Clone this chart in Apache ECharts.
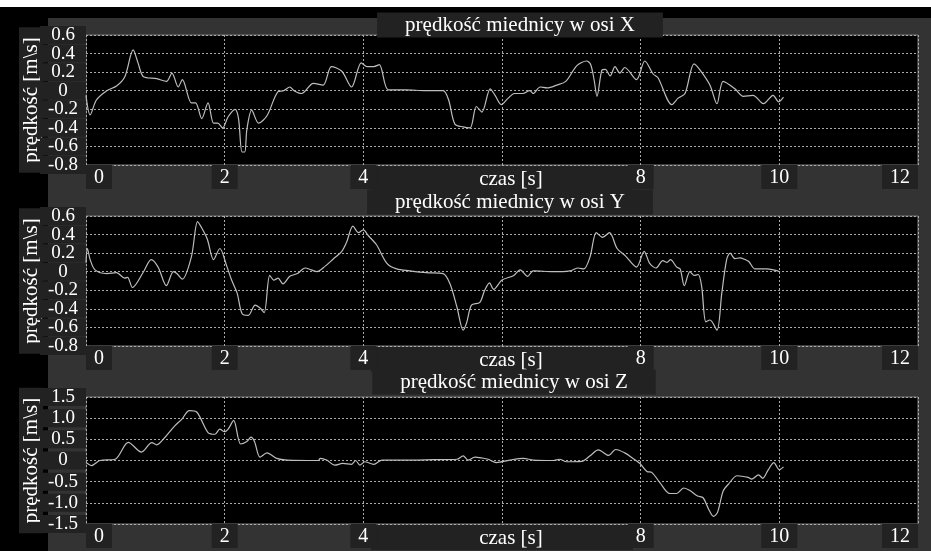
<!DOCTYPE html>
<html><head><meta charset="utf-8">
<script src="https://cdn.jsdelivr.net/npm/echarts@6/dist/echarts.min.js"></script>
<style>html,body{margin:0;padding:0;background:#000}#c{width:931px;height:551px}</style>
</head><body><div id="c"></div>
<script>
// ---- data ----
const titles = ['prędkość miednicy w osi X', 'prędkość miednicy w osi Y', 'prędkość miednicy w osi Z'];
const yName = 'prędkość [m\\s]';
const xName = 'czas [s]';
const xTicks = [0, 2, 4, 6, 8, 10, 12];
const xTickLabelsShown = [0, 2, 4, 8, 10, 12];
const yTicksXY = [-0.8, -0.6, -0.4, -0.2, 0, 0.2, 0.4, 0.6];
const yTicksZ = [-1.5, -1.0, -0.5, 0, 0.5, 1.0, 1.5];

const tX = [0, 0.06, 0.15, 0.3, 0.44, 0.56, 0.68, 0.75, 0.83, 1.02, 1.16, 1.24, 1.33, 1.39, 1.52, 1.58, 1.67, 1.76, 1.84, 1.9, 1.97, 2.05, 2.15, 2.2, 2.25, 2.29, 2.32, 2.39, 2.49, 2.61, 2.77, 2.85, 2.94, 3.0, 3.11, 3.28, 3.42, 3.54, 3.69, 3.83, 3.97, 4.05, 4.15, 4.23, 4.36, 4.6, 4.9, 5.15, 5.23, 5.32, 5.44, 5.54, 5.63, 5.71, 5.83, 5.9, 5.99, 6.09, 6.18, 6.3, 6.4, 6.45, 6.55, 6.65, 6.79, 6.92, 7.08, 7.22, 7.28, 7.33, 7.37, 7.44, 7.49, 7.56, 7.63, 7.7, 7.77, 7.94, 8.06, 8.18, 8.25, 8.45, 8.54, 8.64, 8.77, 8.86, 9.0, 9.1, 9.19, 9.36, 9.48, 9.62, 9.77, 9.91, 9.99, 10.06];
const vX = [-0.05, -0.26, -0.1, 0.0, 0.05, 0.15, 0.44, 0.3, 0.15, 0.13, 0.1, 0.19, 0.04, 0.12, -0.13, -0.13, -0.3, -0.13, -0.35, -0.35, -0.4, -0.28, -0.2, -0.3, -0.66, -0.66, -0.42, -0.21, -0.35, -0.27, -0.01, 0.0, 0.04, 0.0, -0.03, 0.08, 0.06, 0.26, 0.21, 0.04, 0.3, 0.26, 0.26, 0.28, 0.01, 0.01, 0.0, 0.0, -0.1, -0.36, -0.39, -0.4, -0.17, -0.23, 0.02, -0.05, -0.15, -0.08, -0.03, -0.03, 0.0, -0.03, 0.04, 0.03, 0.06, 0.1, 0.27, 0.32, 0.28, 0.11, -0.06, 0.22, 0.23, 0.16, 0.26, 0.19, 0.25, 0.12, 0.32, 0.18, 0.14, -0.15, -0.08, -0.03, 0.29, 0.22, 0.06, -0.14, 0.1, 0.02, -0.06, -0.05, -0.14, -0.05, -0.12, -0.07];

const tY = [0, 0.02, 0.06, 0.13, 0.3, 0.44, 0.56, 0.6, 0.67, 0.83, 0.94, 1.04, 1.16, 1.26, 1.31, 1.39, 1.52, 1.61, 1.67, 1.75, 1.84, 1.93, 2.03, 2.1, 2.18, 2.25, 2.34, 2.44, 2.51, 2.57, 2.65, 2.71, 2.77, 2.84, 2.94, 3.05, 3.16, 3.25, 3.33, 3.45, 3.57, 3.69, 3.76, 3.85, 3.93, 4.0, 4.07, 4.19, 4.34, 4.48, 4.67, 4.91, 5.15, 5.25, 5.35, 5.44, 5.49, 5.56, 5.68, 5.75, 5.82, 5.88, 6.0, 6.17, 6.26, 6.37, 6.45, 6.74, 6.98, 7.1, 7.18, 7.27, 7.36, 7.45, 7.55, 7.66, 7.78, 7.94, 8.05, 8.13, 8.22, 8.32, 8.38, 8.43, 8.52, 8.57, 8.63, 8.71, 8.77, 8.83, 8.88, 8.94, 9.0, 9.1, 9.17, 9.24, 9.29, 9.36, 9.43, 9.51, 9.56, 9.65, 9.82, 10.01];
const vY = [0.1, 0.25, 0.13, 0.02, -0.02, -0.01, -0.07, -0.06, -0.17, 0.0, 0.13, 0.05, -0.15, 0.0, -0.02, -0.08, 0.16, 0.54, 0.47, 0.35, 0.13, 0.25, 0.06, -0.09, -0.23, -0.45, -0.47, -0.36, -0.39, -0.44, -0.04, -0.09, -0.07, -0.13, -0.05, -0.02, 0.04, 0.02, 0.0, 0.06, 0.14, 0.22, 0.32, 0.49, 0.42, 0.45, 0.39, 0.29, 0.09, 0.03, 0.01, -0.01, -0.02, -0.13, -0.38, -0.63, -0.55, -0.36, -0.33, -0.2, -0.12, -0.19, -0.09, -0.04, 0.02, -0.05, 0.01, 0.0, 0.01, 0.04, 0.03, 0.16, 0.42, 0.37, 0.42, 0.25, 0.17, 0.05, 0.22, 0.09, 0.04, 0.12, 0.1, 0.13, 0.05, 0.03, -0.15, 0.0, -0.04, -0.03, -0.16, -0.54, -0.52, -0.63, -0.23, 0.13, 0.2, 0.14, 0.15, 0.13, 0.11, 0.03, 0.03, 0.0];

const tZ = [0, 0.02, 0.08, 0.2, 0.42, 0.61, 0.8, 0.95, 1.02, 1.14, 1.28, 1.38, 1.49, 1.6, 1.76, 1.86, 1.93, 2.0, 2.05, 2.13, 2.23, 2.32, 2.38, 2.43, 2.51, 2.61, 2.75, 2.9, 3.35, 3.38, 3.47, 3.59, 3.7, 3.83, 3.89, 3.95, 4.02, 4.15, 4.27, 4.53, 5.01, 5.35, 5.44, 5.51, 5.61, 5.71, 5.8, 5.92, 6.11, 6.31, 6.45, 6.74, 6.83, 6.93, 7.15, 7.27, 7.39, 7.54, 7.64, 7.77, 7.89, 7.99, 8.09, 8.16, 8.28, 8.42, 8.52, 8.62, 8.71, 8.82, 8.9, 8.98, 9.05, 9.11, 9.19, 9.27, 9.39, 9.55, 9.6, 9.7, 9.76, 9.84, 9.92, 10.0, 10.06];
const vZ = [-0.05, -0.07, -0.12, 0.0, 0.03, 0.43, 0.2, 0.42, 0.37, 0.55, 0.82, 0.97, 1.18, 1.14, 0.66, 0.62, 0.74, 0.68, 0.74, 0.95, 0.39, 0.45, 0.55, 0.45, 0.08, 0.18, 0.05, 0.01, 0.0, 0.05, 0.01, -0.11, -0.07, -0.09, 0.0, -0.11, -0.03, -0.09, 0.01, 0.01, 0.02, 0.03, 0.11, 0.01, 0.08, 0.06, 0.03, -0.05, 0.01, 0.05, 0.01, 0.0, 0.03, -0.03, -0.02, 0.11, 0.25, 0.12, 0.26, 0.18, 0.05, -0.07, -0.26, -0.28, -0.53, -0.78, -0.78, -0.65, -0.71, -0.84, -0.88, -1.15, -1.32, -1.22, -0.72, -0.55, -0.36, -0.4, -0.44, -0.34, -0.42, -0.22, -0.05, -0.22, -0.15];

// ---- chart ----
const FONT = 'Liberation Serif';
const BOX = '#222';
const tops = [35, 216, 397];
const titleCenters = [520, 510, 514];
const titleTops = [13, 190, 370];
const TITLE_PAD = 28;
const seriesT = [tX, tY, tZ];
const seriesV = [vX, vY, vZ];
const yTickSets = [yTicksXY, yTicksXY, yTicksZ];

const fmtY = v => (Math.abs(v) < 1e-9 ? '0' : v.toFixed(1));

const yAxes = [];
tops.forEach((_, i) => {
  const tk = yTickSets[i];
  const interval = +(tk[1] - tk[0]).toFixed(2);
  [0, 1].forEach(part => {
    const primary = part === 0;
    yAxes.push({
      gridIndex: i, type: 'value', position: 'left',
      min: tk[0], max: tk[tk.length - 1], interval: interval,
      axisLine: { show: false }, axisTick: { show: false },
      splitLine: { show: primary, lineStyle: { color: '#aaa', type: [2, 2], width: 1 } },
      axisLabel: {
        customValues: tk.filter((_, k) => k % 2 === part),
        formatter: fmtY, color: '#fff', fontFamily: FONT, fontSize: 19, margin: 23,
        align: 'center', width: 46, backgroundColor: BOX, lineHeight: 18, padding: 0,
        showMinLabel: true, showMaxLabel: true, hideOverlap: false
      },
      name: primary ? yName : '', nameLocation: 'middle', nameGap: 43, nameRotate: 90, nameMoveOverlap: false,
      nameTextStyle: { color: '#fff', fontFamily: FONT, fontSize: 21, backgroundColor: BOX, padding: [2, 10, 2, 10], lineHeight: 20 }
    });
  });
});

const option = {
  backgroundColor: '#000',
  animation: false,
  graphic: [
    { type: 'rect', z: -100, shape: { x: 0, y: 0, width: 931, height: 7 }, style: { fill: '#fff' } },
    { type: 'rect', z: -100, shape: { x: 48, y: 18, width: 883, height: 533 }, style: { fill: '#333' } }
  ],
  title: titles.map((t, i) => ({
    text: t, left: titleCenters[i] - TITLE_PAD, top: titleTops[i], textAlign: 'center',
    backgroundColor: BOX, padding: [2, TITLE_PAD],
    textStyle: { color: '#fff', fontFamily: FONT, fontSize: 21, fontWeight: 'normal', lineHeight: 20 }
  })),
  grid: tops.map(top => ({
    left: 86, top: top, width: 832, height: 130, show: true,
    backgroundColor: '#000', borderColor: '#7a7a7a', borderWidth: 1
  })),
  xAxis: tops.map((_, i) => ({
    gridIndex: i, type: 'value',
    min: xTicks[0], max: xTicks[xTicks.length - 1], interval: xTicks[1] - xTicks[0],
    axisLine: { show: false }, axisTick: { show: false },
    splitLine: { show: true, lineStyle: { color: '#aaa', type: [2, 2], width: 1 } },
    axisLabel: {
      customValues: xTickLabelsShown,
      color: '#fff', fontFamily: FONT, fontSize: 20, margin: 0,
      backgroundColor: BOX, padding: [3, 8, 2, 8], lineHeight: 19,
      showMinLabel: true, showMaxLabel: true, hideOverlap: false,
      alignMinLabel: 'left', alignMaxLabel: 'right'
    },
    name: xName, nameLocation: 'middle', nameGap: 1, nameMoveOverlap: false,
    nameTextStyle: { color: '#fff', fontFamily: FONT, fontSize: 21, backgroundColor: BOX, padding: [3, 90, 2, 108], lineHeight: 20 }
  })),
  yAxis: yAxes,
  series: tops.map((_, i) => ({
    type: 'line', xAxisIndex: i, yAxisIndex: 2 * i,
    data: seriesT[i].map((t, k) => [t, seriesV[i][k]]),
    showSymbol: false, smooth: 0.3,
    lineStyle: { color: '#bdbdbd', width: 1.2 }
  }))
};

const chart = echarts.init(document.getElementById('c'), null, { renderer: 'canvas' });
chart.setOption(option);
</script>
</body></html>
